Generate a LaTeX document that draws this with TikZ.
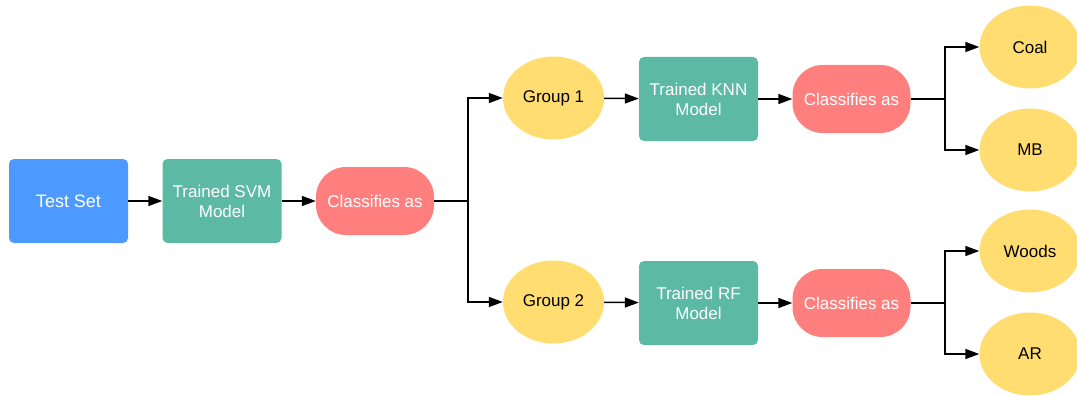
\documentclass[tikz,border=0pt]{standalone}
\usepackage{fontspec}
\setmainfont{Liberation Sans}
\usetikzlibrary{arrows.meta,shapes.geometric}
\definecolor{setblue}{HTML}{4C9AFF}
\definecolor{modelteal}{HTML}{5CB9A6}
\definecolor{classpink}{HTML}{FF7F7F}
\definecolor{groupyellow}{HTML}{FFDD71}
\tikzset{
  base/.style={inner sep=0pt, align=center, font=\fontsize{17}{20}\selectfont},
  setbox/.style={base, fill=setblue, text=white, rounded corners=5pt,
    minimum width=119pt, minimum height=84pt, font=\fontsize{18}{21}\selectfont},
  modelbox/.style={base, fill=modelteal, text=white, rounded corners=5pt,
    minimum width=119pt, minimum height=84pt},
  classbox/.style={base, fill=classpink, text=white, rounded corners=30pt,
    minimum width=118pt, minimum height=68pt},
  leaf/.style={base, ellipse, fill=groupyellow, text=black,
    minimum width=101pt, minimum height=83pt},
  link/.style={line width=1.5pt, -{Triangle[length=14pt,width=10pt]}},
  trunk/.style={line width=1.5pt}
}
\begin{document}
\begin{tikzpicture}[x=1pt, y=-1pt]
\useasboundingbox (0,0) rectangle (1077,396);
\clip (0,0) rectangle (1077,396);

% first stage
\node[setbox]   (test)  at (68.5,201)  {Test Set};
\node[modelbox] (svm)   at (222,201)   {Trained SVM\\Model};
\node[classbox] (cls)   at (375,201)   {Classifies as};

% groups
\node[leaf]     (g1)    at (553.5,98)  {Group 1};
\node[leaf]     (g2)    at (553.5,302) {Group 2};

% second-stage models
\node[modelbox] (knn)   at (698.5,99)  {Trained KNN\\Model};
\node[modelbox] (rf)    at (698.5,303) {Trained RF\\Model};
\node[classbox] (clsA)  at (851.5,99)  {Classifies as};
\node[classbox] (clsB)  at (851.5,303) {Classifies as};

% final classes
\node[leaf]     (coal)  at (1030,47)   {Coal};
\node[leaf]     (mb)    at (1030,150)  {MB};
\node[leaf]     (woods) at (1030,251)  {Woods};
\node[leaf]     (ar)    at (1030,354)  {AR};

% split points
\coordinate (s0) at (468,201);
\coordinate (s1) at (945,99);
\coordinate (s2) at (945,303);

\draw[link] (test) -- (svm);
\draw[link] (svm) -- (cls);
\draw[trunk] (cls.east) -- (s0);
\draw[link] (s0) |- (g1.west);
\draw[link] (s0) |- (g2.west);

\draw[link] (g1) -- (knn);
\draw[link] (g2) -- (rf);
\draw[link] (knn) -- (clsA);
\draw[link] (rf) -- (clsB);

\draw[trunk] (clsA.east) -- (s1);
\draw[link] (s1) |- (coal.west);
\draw[link] (s1) |- (mb.west);
\draw[trunk] (clsB.east) -- (s2);
\draw[link] (s2) |- (woods.west);
\draw[link] (s2) |- (ar.west);
\end{tikzpicture}
\end{document}
